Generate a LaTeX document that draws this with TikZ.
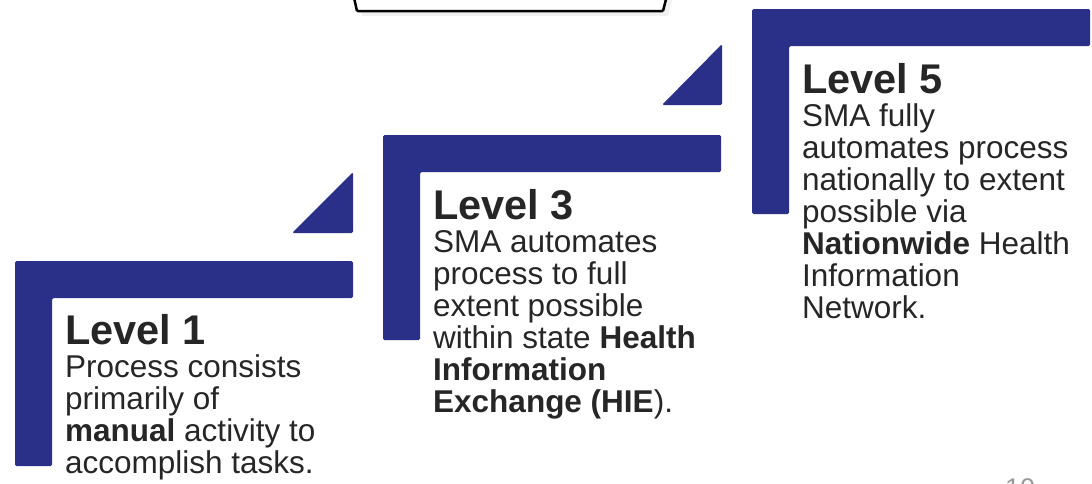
\documentclass[tikz,border=0pt]{standalone}
\usepackage{fontspec}
\setmainfont{Liberation Sans}
\definecolor{stepblue}{RGB}{42,48,136}
\definecolor{textgray}{RGB}{38,38,38}
\newcommand\levelhead[1]{{\fontsize{41.5}{32}\selectfont\bfseries #1}}
\begin{document}
\begin{tikzpicture}[x=1pt,y=-1pt,
  stepbar/.style={fill=stepblue,rounded corners=1.5pt},
  leveltext/.style={anchor=north west,inner sep=0pt,align=left,text=textgray,font=\fontsize{31.5}{32}\selectfont}]
\useasboundingbox (0,0) rectangle (1092,483);
\clip (0,0) rectangle (1092,483);
\fill[gray!12] (356,-20)--(362,16)--(668,16)--(677,-20)--cycle;
\draw[line width=2.5pt,fill=white,rounded corners=1pt] (350,-20)--(357,11)--(663,11)--(671,-20);
\foreach \n/\x/\y in {1/15/261,3/383/135,5/752/9}{
  \fill[stepbar] (\x,\y) -- ++(338,0) -- ++(0,37) -- ++(-301,0) -- ++(0,168) -- ++(-37,0) -- cycle;
}
\fill[stepbar] (292,233)--(353,233)--(353,172)--cycle;
\fill[stepbar] (662,105)--(722,105)--(722,44)--cycle;
\node[leveltext] (lvl1) at (65,314.6) {\levelhead{Level 1}\\[1pt] Process consists\\ primarily of\\ \textbf{manual} activity to\\ accomplish tasks.};
\node[leveltext] (lvl3) at (433,189.6) {\levelhead{Level 3}\\[1pt] SMA automates\\ process to full\\ extent possible\\ within state \textbf{Health}\\ \textbf{Information}\\ \textbf{Exchange (HIE}).};
\node[leveltext] (lvl5) at (802,63.6) {\levelhead{Level 5}\\[1pt] SMA fully\\ automates process\\ nationally to extent\\ possible via\\ \textbf{Nationwide} Health\\ Information\\ Network.};
\node[anchor=base west,inner sep=0pt,text=gray!80,font=\fontsize{27}{27}\selectfont] (pagenum) at (1005,497) {10};
\end{tikzpicture}
\end{document}
